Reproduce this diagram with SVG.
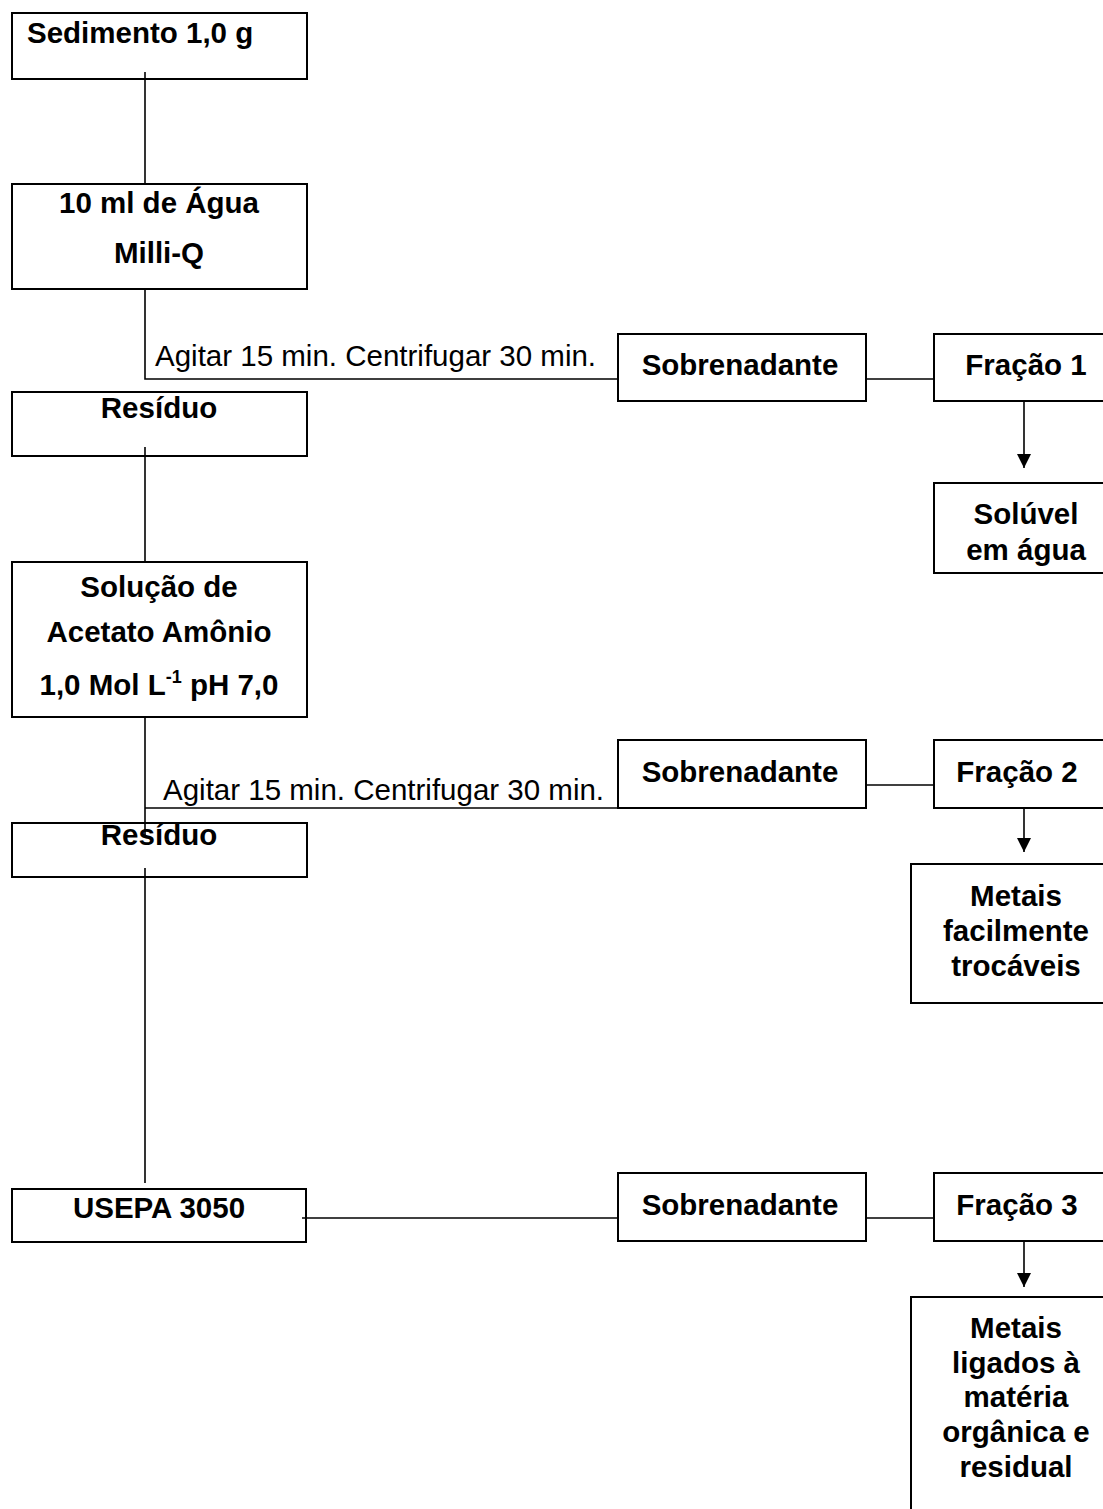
<svg xmlns="http://www.w3.org/2000/svg" width="1103" height="1509" viewBox="0 0 1103 1509">
<style>
.box{fill:#fff;stroke:#000;stroke-width:2}
.ln{fill:none;stroke:#000;stroke-width:1.6}
.b{font-family:"Liberation Sans",Arial,sans-serif;font-weight:bold;font-size:29.5px;fill:#000}
.r{font-family:"Liberation Sans",Arial,sans-serif;font-size:29.5px;fill:#000}
.c{text-anchor:middle}
</style>
<defs>
<marker id="ah" markerUnits="userSpaceOnUse" markerWidth="16" markerHeight="16" refX="14" refY="7" orient="auto">
<path d="M0,0 L14,7 L0,14 Z" fill="#000"/>
</marker>
</defs>
<rect width="1103" height="1509" fill="#fff"/>
<g id="connectors">
<path class="ln" d="M145,72 V184"/>
<path class="ln" d="M145,289 V379 H618"/>
<path class="ln" d="M867,379 H934"/>
<path class="ln" d="M1024,401 V468" marker-end="url(#ah)"/>
<path class="ln" d="M145,447 V562"/>
<path class="ln" d="M145,717 V838"/>
<path class="ln" d="M145,868 V1183"/>
<path class="ln" d="M145,808 H640"/>
<path class="ln" d="M867,785 H934"/>
<path class="ln" d="M1024,808 V852" marker-end="url(#ah)"/>
<path class="ln" d="M302,1218 H618"/>
<path class="ln" d="M867,1218 H934"/>
<path class="ln" d="M1024,1241 V1287" marker-end="url(#ah)"/>
</g>
<g id="sedimento">
<rect class="box" x="12" y="13" width="295" height="66" fill="none" style="fill:none"/>
<text class="b" x="27" y="43">Sedimento 1,0 g</text>
</g>
<g id="agua">
<rect class="box" x="12" y="184" width="295" height="105"/>
<text class="b c" x="159" y="213">10 ml de Água</text>
<text class="b c" x="159" y="263">Milli-Q</text>
</g>
<g id="agitar1">
<text class="r" x="155" y="366">Agitar 15 min. Centrifugar 30 min.</text>
</g>
<g id="residuo1">
<rect class="box" x="12" y="392" width="295" height="64" style="fill:none"/>
<text class="b c" x="159" y="418">Resíduo</text>
</g>
<g id="sobrenadante1">
<rect class="box" x="618" y="334" width="248" height="67"/>
<text class="b c" x="740" y="375">Sobrenadante</text>
</g>
<g id="fracao1">
<rect class="box" x="934" y="334" width="180" height="67"/>
<text class="b c" x="1026" y="375">Fração 1</text>
</g>
<g id="soluvel">
<rect class="box" x="934" y="483" width="180" height="90"/>
<text class="b c" x="1026" y="524">Solúvel</text>
<text class="b c" x="1026" y="560">em água</text>
</g>
<g id="solucao">
<rect class="box" x="12" y="562" width="295" height="155"/>
<text class="b c" x="159" y="597">Solução de</text>
<text class="b c" x="159" y="642">Acetato Amônio</text>
<text class="b c" x="159" y="695">1,0 Mol L<tspan font-size="18" dy="-12">-1</tspan><tspan dy="12"> pH 7,0</tspan></text>
</g>
<g id="agitar2">
<text class="r" x="163" y="800">Agitar 15 min. Centrifugar 30 min.</text>
</g>
<g id="sobrenadante2">
<rect class="box" x="618" y="740" width="248" height="68" style="fill:none"/>
<text class="b c" x="740" y="782">Sobrenadante</text>
</g>
<g id="fracao2">
<rect class="box" x="934" y="740" width="180" height="68"/>
<text class="b c" x="1017" y="782">Fração 2</text>
</g>
<g id="residuo2">
<rect class="box" x="12" y="823" width="295" height="54" style="fill:none"/>
<text class="b c" x="159" y="845">Resíduo</text>
</g>
<g id="metais2">
<rect class="box" x="911" y="864" width="200" height="139"/>
<text class="b c" x="1016" y="906">Metais</text>
<text class="b c" x="1016" y="941">facilmente</text>
<text class="b c" x="1016" y="976">trocáveis</text>
</g>
<g id="usepa">
<rect class="box" x="12" y="1189" width="294" height="53" style="fill:none"/>
<text class="b c" x="159" y="1218">USEPA 3050</text>
</g>
<g id="sobrenadante3">
<rect class="box" x="618" y="1173" width="248" height="68"/>
<text class="b c" x="740" y="1215">Sobrenadante</text>
</g>
<g id="fracao3">
<rect class="box" x="934" y="1173" width="180" height="68"/>
<text class="b c" x="1017" y="1215">Fração 3</text>
</g>
<g id="metais3">
<rect class="box" x="911" y="1297" width="200" height="230"/>
<text class="b c" x="1016" y="1338">Metais</text>
<text class="b c" x="1016" y="1373">ligados à</text>
<text class="b c" x="1016" y="1407">matéria</text>
<text class="b c" x="1016" y="1442">orgânica e</text>
<text class="b c" x="1016" y="1477">residual</text>
</g>
</svg>
